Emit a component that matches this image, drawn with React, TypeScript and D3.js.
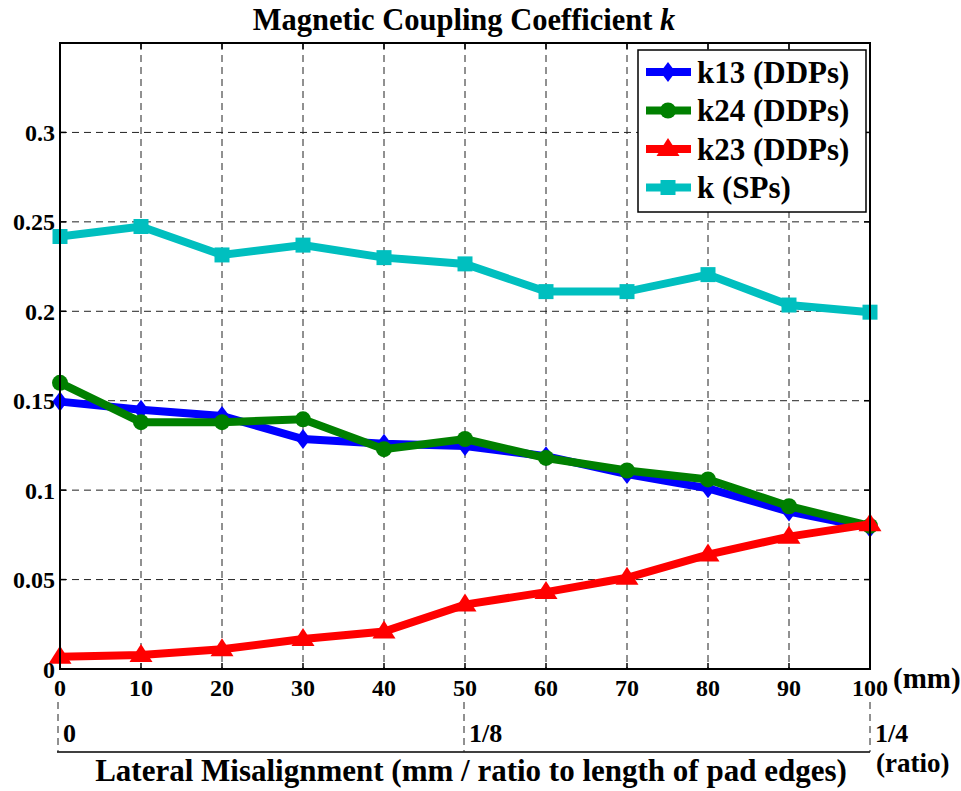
import { useEffect, useRef } from "react"
import * as d3 from "d3"

const mm = [0, 10, 20, 30, 40, 50, 60, 70, 80, 90, 100]
const k13 = [0.1495, 0.145, 0.1415, 0.1286, 0.126, 0.1247, 0.119, 0.109, 0.101, 0.088, 0.079]
const k24 = [0.16, 0.138, 0.138, 0.1396, 0.1229, 0.1286, 0.118, 0.111, 0.106, 0.091, 0.08]
const k23 = [0.0069, 0.0078, 0.011, 0.0168, 0.021, 0.036, 0.043, 0.051, 0.064, 0.074, 0.081]
const kSP = [0.2418, 0.2474, 0.2315, 0.237, 0.23, 0.2265, 0.211, 0.211, 0.2205, 0.2035, 0.1995]

const yTicks = [0, 0.05, 0.1, 0.15, 0.2, 0.25, 0.3]
const ratioTicks = [0, 0.125, 0.25]
const ratioLabels = ["0", "1/8", "1/4"]

type Marker = "diamond" | "circle" | "triangle" | "square"

interface Series {
  name: string
  values: number[]
  color: string
  marker: Marker
}

const series: Series[] = [
  { name: "k13 (DDPs)", values: k13, color: "#0000FF", marker: "diamond" },
  { name: "k24 (DDPs)", values: k24, color: "#008000", marker: "circle" },
  { name: "k23 (DDPs)", values: k23, color: "#FF0000", marker: "triangle" },
  { name: "k (SPs)", values: kSP, color: "#00BFBF", marker: "square" },
]

const W = 961
const H = 791
const margin = { top: 43, right: 91, bottom: 122, left: 60 }
const FONT = "'Liberation Serif', 'Times New Roman', serif"

// marker outline centered at 0,0
function markerPath(m: Marker): string {
  switch (m) {
    case "diamond":
      return "M0,-10L7.5,0L0,10L-7.5,0Z"
    case "triangle":
      return "M0,-11L11.5,7L-11.5,7Z"
    case "square":
      return "M-7.5,-7.5H7.5V7.5H-7.5Z"
    case "circle":
    default:
      return d3.symbol(d3.symbolCircle, Math.PI * 8 * 8)() as string
  }
}

export default function App() {
  const svgRef = useRef<SVGSVGElement>(null)

  useEffect(() => {
    if (!svgRef.current) return
    const svg = d3.select(svgRef.current)
    svg.selectAll("*").remove()

    const width = W - margin.left - margin.right
    const height = H - margin.top - margin.bottom

    const x = d3.scaleLinear().domain([0, 100]).range([0, width])
    const y = d3.scaleLinear().domain([0, 0.35]).range([height, 0])
    const xr = d3.scaleLinear().domain([0, 0.25]).range([-2, width])

    const g = svg.append("g").attr("transform", `translate(${margin.left},${margin.top})`)

    // grid
    g.selectAll("line.vgrid")
      .data(mm.slice(1, -1))
      .enter()
      .append("line")
      .attr("x1", (d) => x(d))
      .attr("x2", (d) => x(d))
      .attr("y1", 0)
      .attr("y2", height)
      .attr("stroke", "#222")
      .attr("stroke-width", 1)
      .attr("stroke-dasharray", "7,5")

    g.selectAll("line.hgrid")
      .data(yTicks.slice(1))
      .enter()
      .append("line")
      .attr("x1", 0)
      .attr("x2", width)
      .attr("y1", (d) => y(d))
      .attr("y2", (d) => y(d))
      .attr("stroke", "#222")
      .attr("stroke-width", 1)
      .attr("stroke-dasharray", "7,5")

    // inward ticks on all sides
    const tl = 6
    mm.forEach((d) => {
      g.append("line").attr("x1", x(d)).attr("x2", x(d)).attr("y1", height).attr("y2", height - tl).attr("stroke", "#000").attr("stroke-width", 1.5)
      g.append("line").attr("x1", x(d)).attr("x2", x(d)).attr("y1", 0).attr("y2", tl).attr("stroke", "#000").attr("stroke-width", 1.5)
    })
    yTicks.forEach((d) => {
      g.append("line").attr("x1", 0).attr("x2", tl).attr("y1", y(d)).attr("y2", y(d)).attr("stroke", "#000").attr("stroke-width", 1.5)
      g.append("line").attr("x1", width).attr("x2", width - tl).attr("y1", y(d)).attr("y2", y(d)).attr("stroke", "#000").attr("stroke-width", 1.5)
    })

    // series lines + markers
    series.forEach((s) => {
      const pts = mm.map((m, i) => [x(m), y(s.values[i])] as [number, number])
      g.append("path")
        .datum(pts)
        .attr("fill", "none")
        .attr("stroke", s.color)
        .attr("stroke-width", 8)
        .attr("stroke-linejoin", "miter")
        .attr("d", d3.line())
      g.selectAll(null)
        .data(pts)
        .enter()
        .append("path")
        .attr("transform", (p) => `translate(${p[0]},${p[1]})`)
        .attr("d", markerPath(s.marker))
        .attr("fill", s.color)
    })

    // axes box
    g.append("rect")
      .attr("x", 0)
      .attr("y", 0)
      .attr("width", width)
      .attr("height", height)
      .attr("fill", "none")
      .attr("stroke", "#000")
      .attr("stroke-width", 2)

    // y tick labels
    g.selectAll("text.ytick")
      .data(yTicks)
      .enter()
      .append("text")
      .attr("x", -5)
      .attr("y", (d) => y(d))
      .attr("dy", "0.36em")
      .attr("text-anchor", "end")
      .style("font-family", FONT)
      .style("font-weight", "bold")
      .style("font-size", "24px")
      .text((d) => String(d))

    // x tick labels (mm)
    g.selectAll("text.xtick")
      .data(mm)
      .enter()
      .append("text")
      .attr("x", (d) => x(d))
      .attr("y", height + 27)
      .attr("text-anchor", "middle")
      .style("font-family", FONT)
      .style("font-weight", "bold")
      .style("font-size", "24px")
      .text((d) => String(d))

    g.append("text")
      .attr("x", width + 23)
      .attr("y", height + 19)
      .style("font-family", FONT)
      .style("font-weight", "bold")
      .style("font-size", "29px")
      .text("(mm)")

    // secondary ratio axis
    const rBase = height + 83
    g.append("line")
      .attr("x1", xr(0) - 1)
      .attr("x2", xr(0.25))
      .attr("y1", rBase)
      .attr("y2", rBase)
      .attr("stroke", "#000")
      .attr("stroke-width", 1.5)

    g.selectAll("line.rtick")
      .data(ratioTicks)
      .enter()
      .append("line")
      .attr("x1", (d) => xr(d))
      .attr("x2", (d) => xr(d))
      .attr("y1", height + 33)
      .attr("y2", rBase)
      .attr("stroke", "#222")
      .attr("stroke-width", 1)
      .attr("stroke-dasharray", "7,5")

    g.selectAll("text.rlabel")
      .data(ratioTicks)
      .enter()
      .append("text")
      .attr("x", (d) => xr(d) + 5)
      .attr("y", height + 73)
      .style("font-family", FONT)
      .style("font-weight", "bold")
      .style("font-size", "26px")
      .text((_, i) => ratioLabels[i])

    g.append("text")
      .attr("x", width + 6)
      .attr("y", height + 103)
      .style("font-family", FONT)
      .style("font-weight", "bold")
      .style("font-size", "27px")
      .text("(ratio)")

    // x axis title
    g.append("text")
      .attr("x", width / 2 + 6)
      .attr("y", height + 112)
      .attr("text-anchor", "middle")
      .style("font-family", FONT)
      .style("font-weight", "bold")
      .style("font-size", "31px")
      .text("Lateral Misalignment (mm / ratio to length of pad edges)")

    // chart title
    const title = g
      .append("text")
      .attr("x", width / 2 - 1)
      .attr("y", -13)
      .attr("text-anchor", "middle")
      .style("font-family", FONT)
      .style("font-weight", "bold")
      .style("font-size", "30.5px")
    title.append("tspan").text("Magnetic Coupling Coefficient ")
    title.append("tspan").style("font-style", "italic").text("k")

    // legend
    const lx = 578
    const ly = 7
    const legend = g.append("g").attr("transform", `translate(${lx},${ly})`)
    legend
      .append("rect")
      .attr("width", 228)
      .attr("height", 162)
      .attr("fill", "#fff")
      .attr("stroke", "#000")
      .attr("stroke-width", 1.5)

    series.forEach((s, i) => {
      const cy = 22 + i * 38.5
      legend
        .append("line")
        .attr("x1", 8)
        .attr("x2", 53)
        .attr("y1", cy)
        .attr("y2", cy)
        .attr("stroke", s.color)
        .attr("stroke-width", 8)
      legend
        .append("path")
        .attr("transform", `translate(30,${cy})`)
        .attr("d", markerPath(s.marker))
        .attr("fill", s.color)
      legend
        .append("text")
        .attr("x", 59)
        .attr("y", cy)
        .attr("dy", "0.35em")
        .style("font-family", FONT)
        .style("font-weight", "bold")
        .style("font-size", "31px")
        .text(s.name)
    })
  }, [])

  return (
    <div style={{ position: "absolute", left: 0, top: 0, width: W, height: H, background: "#fff" }}>
      <svg ref={svgRef} width={W} height={H} style={{ display: "block" }} />
    </div>
  )
}
